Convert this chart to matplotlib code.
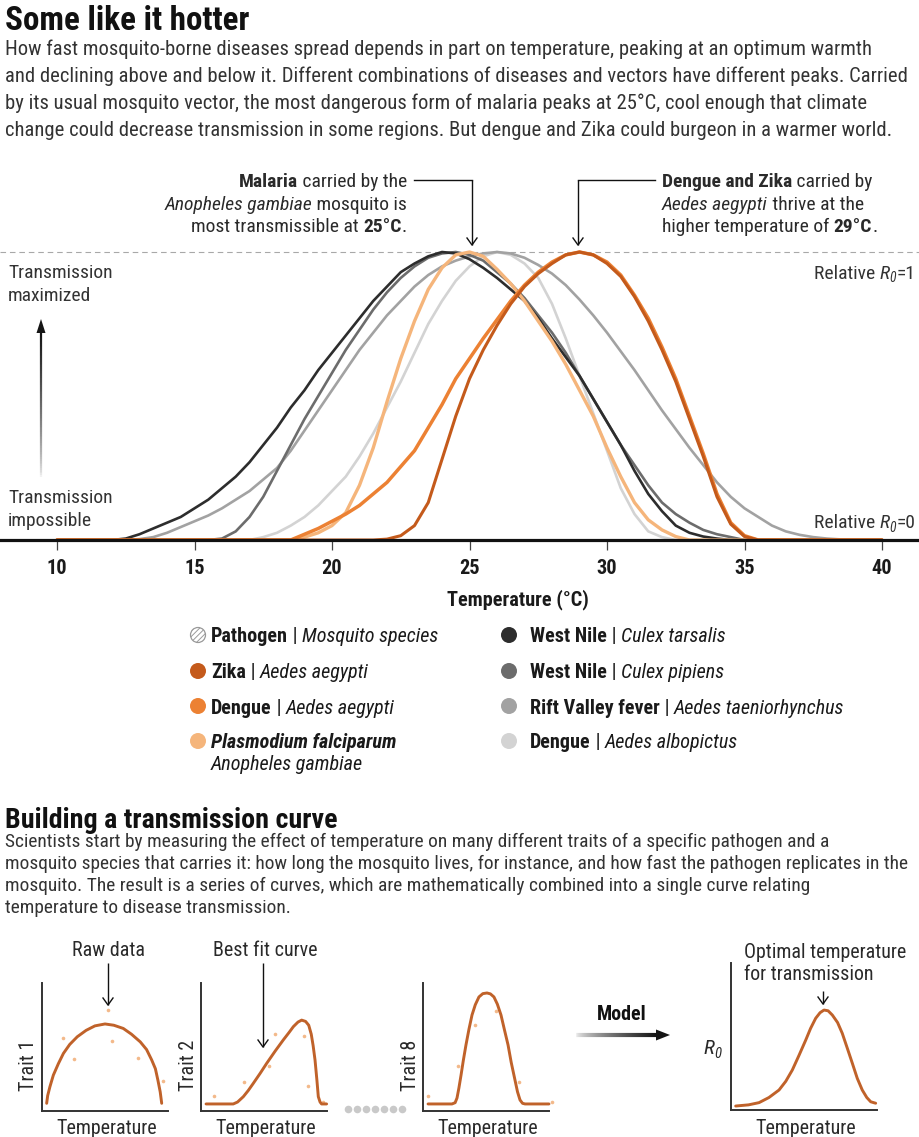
import matplotlib
matplotlib.use("Agg")
import matplotlib.pyplot as plt
import numpy as np
from matplotlib import font_manager
from matplotlib.colors import to_rgb
from matplotlib.patches import Circle, Polygon
from matplotlib.collections import LineCollection

W, H = 919, 1137

# ---- values (relative R0, 0..1), every 0.5 °C from 10 to 40 ----
temps = [10.0, 10.5, 11.0, 11.5, 12.0, 12.5, 13.0, 13.5, 14.0, 14.5, 15.0, 15.5, 16.0, 16.5, 17.0, 17.5,
         18.0, 18.5, 19.0, 19.5, 20.0, 20.5, 21.0, 21.5, 22.0, 22.5, 23.0, 23.5, 24.0, 24.5, 25.0, 25.5,
         26.0, 26.5, 27.0, 27.5, 28.0, 28.5, 29.0, 29.5, 30.0, 30.5, 31.0, 31.5, 32.0, 32.5, 33.0, 33.5,
         34.0, 34.5, 35.0, 35.5, 36.0, 36.5, 37.0, 37.5, 38.0, 38.5, 39.0, 39.5, 40.0]
wn_tarsalis = ([0] * 5 +
               [.005, .02, .04, .06, .08, .11, .14, .18, .22, .27, .33, .39, .46, .52, .59, .65, .71, .77, .83, .88,
                .93, .96, .985, 1.0, .995, .975, .945, .91, .87, .83, .77, .70, .635, .57, .49, .41, .33, .24, .16,
                .10, .05, .025, .012, .005] +
               [0] * 12)
wn_pipiens = ([0] * 12 +
              [.005, .03, .08, .15, .24, .33, .42, .50, .58, .66, .73, .80, .86, .91, .95, .98, .995, 1.0, .99, .97,
               .93, .89, .84, .78, .72, .65, .57, .49, .41, .33, .26, .19, .13, .09, .06, .035, .02, .01] +
              [0] * 11)
rift_valley = ([0] * 6 +
               [.003, .01, .025, .045, .065, .085, .11, .14, .17, .21, .25, .31, .38, .45, .52, .59, .66, .72, .78,
                .83, .88, .92, .95, .97, .985, .995, 1.0, .995, .98, .955, .925, .885, .835, .78, .72, .655, .59,
                .52, .45, .385, .32, .26, .20, .15, .11, .08, .05, .03, .018, .01, .005, .002] +
               [0] * 3)
dengue_albo = ([0] * 15 +
               [.01, .025, .05, .08, .12, .17, .22, .29, .37, .46, .55, .65, .75, .83, .90, .95, .985, 1.0, .99, .96,
                .91, .82, .70, .57, .44, .31, .18, .09, .03, .01] +
               [0] * 16)
falciparum = ([0] * 18 +
              [.01, .025, .05, .095, .19, .32, .48, .63, .76, .87, .945, .99, 1.0, .985, .94, .89, .83, .76, .69,
               .61, .52, .43, .32, .22, .13, .07, .035, .012] +
              [0] * 15)
dengue_aeg = ([0] * 18 +
              [.02, .04, .065, .09, .12, .16, .20, .255, .31, .39, .47, .56, .63, .70, .765, .83, .885, .93, .965,
               .99, 1.0, .99, .965, .92, .85, .77, .67, .56, .43, .30, .16, .06, .015] +
              [0] * 10)
zika = ([0] * 24 +
        [.003, .015, .05, .13, .28, .43, .56, .66, .745, .82, .88, .925, .96, .99, 1.0, .99, .96, .915, .845, .76,
         .66, .55, .42, .29, .15, .055, .012] +
        [0] * 10)
xticks = [10, 15, 20, 25, 30, 35, 40]

# legend (pathogen, mosquito)
legend_left = [("Zika", "Aedes aegypti"), ("Dengue", "Aedes aegypti")]
legend_right = [("West Nile", "Culex tarsalis"), ("West Nile", "Culex pipiens"),
                ("Rift Valley fever", "Aedes taeniorhynchus"), ("Dengue", "Aedes albopictus")]

# schematic panels (arbitrary units 0..10)
p1_x = [0.37, 0.45, 0.63, 0.9, 1.3, 1.7, 2.2, 2.8, 3.5, 4.2, 5.0, 5.7, 6.45, 7.1, 7.8, 8.3, 8.7, 9.0, 9.2, 9.38, 9.5]
p1_y = [0.6, 1.2, 1.9, 2.8, 3.7, 4.5, 5.2, 5.8, 6.3, 6.65, 6.8, 6.7, 6.45, 6.0, 5.4, 4.8, 4.0, 3.3, 2.4, 1.5, 0.6]
p1_dots_x = [1.69, 2.54, 5.21, 5.53, 7.65, 9.63]
p1_dots_y = [5.73, 4.04, 7.89, 5.47, 4.16, 2.37]
p2_x = [0.4, 2.56, 2.9, 3.36, 3.75, 4.15, 4.7, 5.21, 5.9, 6.53, 7.0, 7.33, 7.7, 7.99, 8.3, 8.55, 8.75, 8.9,
        9.05, 9.2, 9.31, 9.45, 9.57, 9.97]
p2_y = [0.55, 0.55, 0.7, 1.12, 1.6, 2.16, 2.95, 3.72, 4.7, 5.55, 6.15, 6.59, 6.95, 7.1, 7.0, 6.7, 6.0, 5.1,
        3.98, 2.4, 1.12, 0.7, 0.55, 0.55]
p2_dots_x = [1.06, 3.44, 5.42, 5.87, 8.2, 8.52, 9.71]
p2_dots_y = [1.2, 2.24, 3.54, 5.99, 5.86, 1.98, 0.73]
p3_x = [0.4, 2.3, 2.55, 2.7, 2.85, 3.02, 3.2, 3.41, 3.65, 3.89, 4.15, 4.44, 4.75, 5.08, 5.35, 5.63, 5.9, 6.19,
        6.45, 6.75, 7.0, 7.3, 7.5, 7.7, 7.9, 8.1, 10.0]
p3_y = [0.55, 0.55, 0.65, 1.02, 1.8, 2.81, 3.95, 5.16, 6.4, 7.5, 8.3, 8.91, 9.17, 9.22, 9.15, 8.91, 8.35, 7.5,
        6.4, 5.16, 3.8, 2.42, 1.5, 0.86, 0.6, 0.55, 0.55]
p3_dots_x = [0.4, 2.78, 4.13, 5.79, 7.62, 10.24]
p3_dots_y = [1.17, 3.52, 6.72, 7.81, 2.27, 0.7]
p4_x = [0.32, 1.2, 1.92, 2.6, 3.29, 3.75, 4.2, 4.65, 5.12, 5.45, 5.8, 6.1, 6.37, 6.65, 6.94, 7.3, 7.62, 7.95,
        8.31, 8.65, 8.99, 9.3, 9.57, 9.91]
p4_y = [0.27, 0.35, 0.5, 0.85, 1.36, 1.95, 2.72, 3.7, 4.76, 5.55, 6.24, 6.62, 6.8, 6.75, 6.46, 5.95, 5.22, 4.25,
        3.18, 2.15, 1.36, 0.85, 0.56, 0.46]

# ---- font: prefer a condensed face ----
ttf = font_manager.fontManager.ttflist
narrow = {f.name for f in ttf if f.stretch in ("condensed", "semi-condensed", "extra-condensed", "ultra-condensed")}
FAMILY, STRETCH = "Roboto", "normal"
for cand in ["Roboto Condensed", "Liberation Sans Narrow", "Open Sans Condensed", "Noto Sans",
             "Open Sans", "Roboto", "DejaVu Sans"]:
    if cand in narrow:
        FAMILY, STRETCH = cand, "condensed"
        break
plt.rcParams["font.family"] = [FAMILY, "DejaVu Sans"]
plt.rcParams["font.stretch"] = STRETCH
plt.rcParams["hatch.linewidth"] = 0.7

ZIKA_C, DEN_C, PF_C = "#c45a1b", "#ec8133", "#f5b57b"
TAR_C, PIP_C, RVF_C, ALB_C = "#2d2d2d", "#6c6c6c", "#a2a2a2", "#d3d3d3"
TXT = "#2a2a2a"
CURVE_C = "#c0622a"

fig = plt.figure(figsize=(W / 100, H / 100), dpi=100)
ov = fig.add_axes([0, 0, 1, 1], zorder=5)
ov.set_xlim(0, W)
ov.set_ylim(H, 0)
ov.axis("off")
R = fig.canvas.get_renderer()


def width(s, size, weight="normal", style="normal"):
    a = ov.text(0, 0, s + "|", fontsize=size, fontweight=weight, fontstyle=style)
    b = ov.text(0, 0, "|", fontsize=size, fontweight=weight, fontstyle=style)
    w = a.get_window_extent(R).width - b.get_window_extent(R).width
    a.remove()
    b.remove()
    return w


def fit(parts, target, size, cap=1.12):
    w = sum(width(p[0], size * (p[3] if len(p) > 3 else 1), p[1], p[2]) for p in parts)
    return size * min(target / w, cap)


def rich(x, y, parts, size, ha="left", color=TXT):
    ws = [width(p[0], size * (p[3] if len(p) > 3 else 1), p[1], p[2]) for p in parts]
    total = sum(ws)
    x0 = x if ha == "left" else (x - total if ha == "right" else x - total / 2)
    for p, w in zip(parts, ws):
        sc = p[3] if len(p) > 3 else 1
        dy = p[4] if len(p) > 4 else 0
        ov.text(x0, y + dy, p[0], fontsize=size * sc, fontweight=p[1], fontstyle=p[2],
                color=color, ha="left", va="center_baseline")
        x0 += w


def plain(x, y, s, size, weight="normal", style="normal", ha="left", color=TXT, **kw):
    ov.text(x, y, s, fontsize=size, fontweight=weight, fontstyle=style, color=color,
            ha=ha, va="center_baseline", **kw)


def vline_arrow(x, y0, y1, lw=1.0):
    ov.plot([x, x], [y0, y1], color="#111", lw=lw, solid_capstyle="butt")
    ov.plot([x - 5, x, x + 5], [y1 - 7, y1, y1 - 7], color="#111", lw=lw)


def grad_arrow(x0, y0, x1, y1, c0, c1, lw, head, half):
    n = 80
    xs, ys = np.linspace(x0, x1, n + 1), np.linspace(y0, y1, n + 1)
    segs = [[(xs[i], ys[i]), (xs[i + 1], ys[i + 1])] for i in range(n)]
    a, b = np.array(to_rgb(c0)), np.array(to_rgb(c1))
    cols = [tuple(a + (b - a) * (i / (n - 1)) ** 0.7) for i in range(n)]
    ov.add_collection(LineCollection(segs, colors=cols, linewidths=lw, capstyle="butt"))
    L = np.hypot(x1 - x0, y1 - y0)
    ux, uy = (x1 - x0) / L, (y1 - y0) / L
    px, py = -uy, ux
    ov.add_patch(Polygon([(x1 + ux * head, y1 + uy * head), (x1 + px * half, y1 + py * half),
                          (x1 - px * half, y1 - py * half)], closed=True, color=c1, lw=0))


# ---- header text ----
s = fit([("Some like it hotter", "bold", "normal")], 245, 22)
plain(5, 17, "Some like it hotter", s, weight="bold", color="#111")
intro = ["How fast mosquito-borne diseases spread depends in part on temperature, peaking at an optimum warmth",
         "and declining above and below it. Different combinations of diseases and vectors have different peaks. Carried",
         "by its usual mosquito vector, the most dangerous form of malaria peaks at 25°C, cool enough that climate",
         "change could decrease transmission in some regions. But dengue and Zika could burgeon in a warmer world."]
s = fit([(intro[1], "normal", "normal")], 901, 14.5)
for i, line in enumerate(intro):
    plain(5, 47 + 27 * i, line, s, color="#333")

# ---- main chart ----
ax = fig.add_axes([0, 1 - 541 / H, 1, 301 / H])
ax.set_facecolor("none")
ax.set_xlim(10 - 57 / 27.5, 10 + 862 / 27.5)
ax.set_ylim(-1 / 288, 1 + 12 / 288)
for sp in ["left", "right", "top"]:
    ax.spines[sp].set_visible(False)
ax.spines["bottom"].set_position(("data", 0))
ax.spines["bottom"].set_linewidth(2.3)
ax.spines["bottom"].set_color("#111")
ax.spines["bottom"].set_zorder(3)
ax.set_yticks([])
ax.axhline(1.0, color="#a8a8a8", lw=0.8, dashes=(5, 3.5), zorder=1)

series = [(dengue_albo, ALB_C, 1.9), (rift_valley, RVF_C, 1.9), (wn_pipiens, PIP_C, 1.9),
          (wn_tarsalis, TAR_C, 1.9), (falciparum, PF_C, 2.4), (dengue_aeg, DEN_C, 2.5), (zika, ZIKA_C, 2.2)]
for vals, col, lw in series:
    ax.plot(temps, vals, color=col, lw=lw, solid_capstyle="round", solid_joinstyle="round", zorder=2)

ts = fit([("Temperature (°C)", "bold", "normal")], 143, 13)
ax.set_xticks(xticks)
ax.set_xticklabels([str(t) for t in xticks], fontweight="bold", fontsize=ts, color="#1a1a1a")
ax.tick_params(axis="x", length=7, width=0.9, color="#444", pad=7)
plain(447, 597, "Temperature (°C)", ts, weight="bold", color="#1a1a1a")

# annotations
a_s = fit([("Anopheles gambiae", "normal", "italic"), (" mosquito is", "normal", "normal")], 244, 12.5)
rich(407, 180, [("Malaria", "bold", "normal"), (" carried by the", "normal", "normal")], a_s, ha="right")
rich(407, 203, [("Anopheles gambiae", "normal", "italic"), (" mosquito is", "normal", "normal")], a_s, ha="right")
rich(407, 225, [("most transmissible at ", "normal", "normal"), ("25°C", "bold", "normal"), (".", "normal", "normal")],
     a_s, ha="right")
ov.plot([414, 472], [180, 180], color="#111", lw=1.0)
vline_arrow(472, 180, 245)
rich(662, 180, [("Dengue and Zika", "bold", "normal"), (" carried by", "normal", "normal")], a_s)
rich(662, 203, [("Aedes aegypti", "normal", "italic"), (" thrive at the", "normal", "normal")], a_s)
rich(662, 225, [("higher temperature of ", "normal", "normal"), ("29°C", "bold", "normal"), (".", "normal", "normal")],
     a_s)
ov.plot([655, 578], [180, 180], color="#111", lw=1.0)
vline_arrow(578, 180, 245)

plain(8, 271, "Transmission", a_s, color="#333")
plain(8, 294, "maximized", a_s, color="#333")
plain(8, 496, "Transmission", a_s, color="#333")
plain(8, 519, "impossible", a_s, color="#333")
grad_arrow(41, 477, 41, 333, "#f2f2f2", "#151515", 1.6, 14, 4.5)

for val, yy in [("1", 272), ("0", 521)]:
    rich(915, yy, [("Relative ", "normal", "normal"), ("R", "normal", "italic"),
                   ("0", "normal", "italic", 0.7, 5), ("=" + val, "normal", "normal")], a_s, ha="right", color="#333")

# ---- legend ----
ls = fit([("Rift Valley fever", "bold", "normal"), (" | ", "normal", "normal"),
          ("Aedes taeniorhynchus", "normal", "italic")], 314, 13)
rows = [635, 671, 706, 741]
ov.add_patch(Circle((198, rows[0]), 7.5, facecolor="white", edgecolor="#9a9a9a", hatch="//////", lw=0.9))
rich(211, rows[0], [("Pathogen", "bold", "normal"), (" | ", "normal", "normal"), ("Mosquito species", "normal", "italic")],
     ls, color="#1a1a1a")
for (p, m), col, yy in zip(legend_left, [ZIKA_C, DEN_C], rows[1:3]):
    ov.add_patch(Circle((198, yy), 8, color=col, lw=0))
    rich(211, yy, [(p, "bold", "normal"), (" | ", "normal", "normal"), (m, "normal", "italic")], ls, color="#1a1a1a")
ov.add_patch(Circle((198, rows[3]), 8, color=PF_C, lw=0))
plain(211, rows[3], "Plasmodium falciparum", ls, weight="bold", style="italic", color="#1a1a1a")
plain(211, 763, "Anopheles gambiae", ls, style="italic", color="#1a1a1a")
for (p, m), col, yy in zip(legend_right, [TAR_C, PIP_C, RVF_C, ALB_C], rows):
    ov.add_patch(Circle((509, yy), 8, color=col, lw=0))
    rich(530, yy, [(p, "bold", "normal"), (" | ", "normal", "normal"), (m, "normal", "italic")], ls, color="#1a1a1a")

# ---- second section ----
s = fit([("Building a transmission curve", "bold", "normal")], 333, 18)
plain(5, 818, "Building a transmission curve", s, weight="bold", color="#111")
body = ["Scientists start by measuring the effect of temperature on many different traits of a specific pathogen and a",
        "mosquito species that carries it: how long the mosquito lives, for instance, and how fast the pathogen replicates in the",
        "mosquito. The result is a series of curves, which are mathematically combined into a single curve relating",
        "temperature to disease transmission."]
s = fit([(body[1], "normal", "normal")], 907, 12.5)
for i, line in enumerate(body):
    plain(5, 840 + 22 * i, line, s, color="#333")


def panel(x0, x1, ytop, ybot):
    a = fig.add_axes([x0 / W, 1 - ybot / H, (x1 - x0) / W, (ybot - ytop) / H])
    a.set_facecolor("none")
    a.set_xlim(0, 10)
    a.set_ylim(0, 10)
    for sp in ["right", "top"]:
        a.spines[sp].set_visible(False)
    for sp in ["left", "bottom"]:
        a.spines[sp].set_linewidth(1.4)
        a.spines[sp].set_color("#333")
    a.set_xticks([])
    a.set_yticks([])
    return a


ps = fit([("Optimal temperature", "normal", "normal")], 162, 13)
for (x0, x1, ytop, cx, cy, dx, dy, lab, lx) in [
        (42, 168, 983, p1_x, p1_y, p1_dots_x, p1_dots_y, "Trait 1", 28),
        (201, 327, 983, p2_x, p2_y, p2_dots_x, p2_dots_y, "Trait 2", 188),
        (423, 549, 983, p3_x, p3_y, p3_dots_x, p3_dots_y, "Trait 8", 410)]:
    a = panel(x0, x1, ytop, 1111)
    a.plot(dx, dy, "o", ms=2.6, color="#f3b98a", mec="none", clip_on=False)
    a.plot(cx, cy, color=CURVE_C, lw=2.1, solid_capstyle="round", solid_joinstyle="round", clip_on=False)
    plain(lx, 1047, lab, ps, ha="center", rotation=90)
    plain((x0 + x1) / 2 + 2, 1126, "Temperature", ps, ha="center")

a = panel(731, 877, 963, 1110)
a.plot(p4_x, p4_y, color=CURVE_C, lw=2.1, solid_capstyle="round", solid_joinstyle="round", clip_on=False)
plain(806, 1126, "Temperature", ps, ha="center")
rich(712, 1047, [("R", "normal", "italic"), ("0", "normal", "italic", 0.7, 5)], ps * 1.05, ha="center")

plain(108, 949, "Raw data", ps, ha="center")
vline_arrow(108, 963, 1005)
plain(265, 949, "Best fit curve", ps, ha="center")
vline_arrow(263, 963, 1047)
plain(744, 950, "Optimal temperature", ps)
plain(744, 972, "for transmission", ps)
vline_arrow(823, 991, 1004)

ov.scatter(np.linspace(348, 402, 7), [1109] * 7, s=30, color="#c9c9c9", lw=0)
plain(622, 1013, "Model", ps, weight="bold", ha="center", color="#111")
grad_arrow(576, 1035, 656, 1035, "#eeeeee", "#151515", 3.0, 14, 5.5)

fig.savefig("out.png", dpi=100)
